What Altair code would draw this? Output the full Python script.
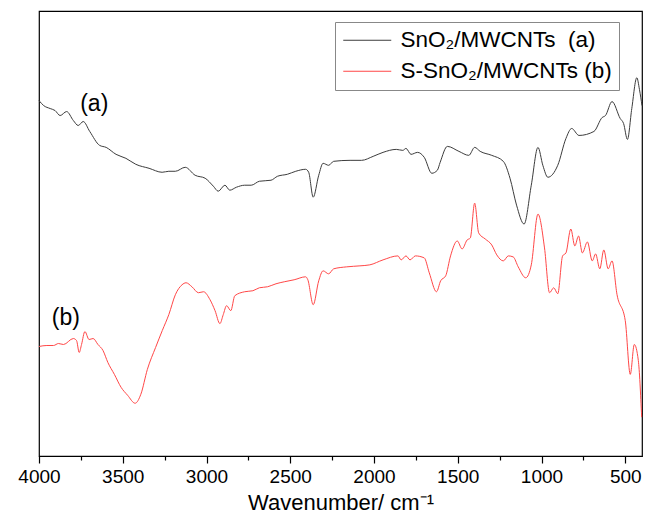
import altair as alt
import pandas as pd

# ---- data ----
wn_a = [4000, 3972, 3933, 3904, 3874, 3835, 3795, 3766, 3736, 3697, 3638, 3599, 3540, 3481,
        3422, 3343, 3265, 3225, 3186, 3127, 3068, 3008, 2959, 2930, 2890, 2861, 2821, 2772,
        2733, 2684, 2615, 2576, 2517, 2467, 2408, 2390, 2363, 2330, 2304, 2271, 2241, 2143,
        2074, 2005, 1946, 1867, 1828, 1809, 1779, 1740, 1700, 1655, 1622, 1605, 1562, 1493,
        1434, 1399, 1366, 1297, 1228, 1188, 1149, 1104, 1061, 1021, 992, 962, 903, 854, 820,
        776, 687, 638, 618, 579, 530, 510, 487, 461, 431, 415, 400]
abs_a = [3.57, 3.52, 3.49, 3.47, 3.42, 3.46, 3.37, 3.32, 3.36, 3.26, 3.12, 3.10, 3.03, 2.99,
         2.93, 2.89, 2.85, 2.86, 2.86, 2.90, 2.82, 2.79, 2.71, 2.66, 2.72, 2.67, 2.70, 2.72,
         2.72, 2.76, 2.77, 2.81, 2.83, 2.86, 2.88, 2.85, 2.60, 2.82, 2.94, 2.92, 2.96, 2.97,
         2.97, 3.01, 3.05, 3.08, 3.07, 3.09, 3.03, 3.05, 3.00, 2.84, 2.87, 2.95, 3.11, 3.06,
         3.02, 3.10, 3.06, 3.02, 2.96, 2.79, 2.52, 2.33, 2.72, 3.10, 2.92, 2.80, 2.92, 3.19, 3.29,
         3.22, 3.26, 3.40, 3.42, 3.56, 3.39, 3.34, 3.18, 3.49, 3.80, 3.68, 3.52]

wn_b = [4000, 3953, 3913, 3884, 3854, 3795, 3776, 3760, 3746, 3726, 3701, 3677, 3648, 3618,
        3589, 3550, 3510, 3471, 3426, 3392, 3353, 3304, 3264, 3225, 3186, 3146, 3122, 3087,
        3048, 3018, 2979, 2949, 2920, 2900, 2880, 2855, 2831, 2772, 2723, 2684, 2635, 2585,
        2536, 2477, 2408, 2395, 2363, 2330, 2304, 2271, 2241, 2163, 2084, 2025, 1946, 1857,
        1838, 1809, 1785, 1753, 1700, 1670, 1627, 1602, 1572, 1543, 1503, 1474, 1444, 1425,
        1399, 1375, 1336, 1297, 1267, 1228, 1198, 1169, 1139, 1094, 1061, 1021, 982, 952, 927,
        903, 874, 854, 825, 801, 779, 756, 726, 697, 677, 652, 628, 602, 579, 549, 500, 470,
        446, 422, 402]
abs_b = [1.10, 1.11, 1.11, 1.13, 1.12, 1.18, 1.16, 1.04, 1.12, 1.25, 1.17, 1.18, 1.12, 1.06,
         0.94, 0.82, 0.69, 0.61, 0.53, 0.62, 0.87, 1.09, 1.26, 1.42, 1.62, 1.72, 1.74, 1.70,
         1.64, 1.65, 1.57, 1.46, 1.33, 1.42, 1.51, 1.46, 1.61, 1.65, 1.66, 1.69, 1.70, 1.73,
         1.75, 1.77, 1.80, 1.77, 1.52, 1.76, 1.86, 1.83, 1.88, 1.90, 1.91, 1.92, 1.97, 2.01,
         1.97, 2.01, 1.97, 2.01, 1.99, 1.84, 1.65, 1.76, 1.81, 2.01, 2.16, 2.08, 2.17, 2.19,
         2.54, 2.24, 2.18, 2.12, 2.02, 1.96, 2.01, 2.00, 1.90, 1.79, 1.92, 2.43, 2.09, 1.64, 1.69,
         1.63, 2.01, 2.04, 2.28, 2.11, 2.21, 2.04, 2.15, 1.96, 2.03, 1.88, 2.07, 1.88, 1.96,
         1.62, 1.36, 0.82, 1.12, 0.96, 0.39]

series_names = ["SnO\u2082/MWCNTs\u00a0 (a)", "S-SnO\u2082/MWCNTs (b)"]
series_colors = ["#3c3c3c", "#ff4747"]

major_ticks = [4000, 3500, 3000, 2500, 2000, 1500, 1000, 500]
minor_ticks = [3750, 3250, 2750, 2250, 1750, 1250, 750]
x_domain = [4000, 400]
y_domain = [0, 4.47]

annot_labels = ["(a)", "(b)"]
annot_wn = [3670, 3840]
annot_abs = [3.54, 1.39]

# ---- tables ----
rows = []
for i, (w, a) in enumerate(zip(wn_a, abs_a)):
    rows.append({"wn": w, "A": a, "series": series_names[0], "idx": i})
for i, (w, a) in enumerate(zip(wn_b, abs_b)):
    rows.append({"wn": w, "A": a, "series": series_names[1], "idx": i})
df = pd.DataFrame(rows)
df_minor = pd.DataFrame({"wn": minor_ticks})
df_annot = pd.DataFrame({"wn": annot_wn, "A": annot_abs, "label": annot_labels})

FONT = "Liberation Sans"
x_scale = alt.Scale(domain=x_domain, nice=False, zero=False)
y_scale = alt.Scale(domain=y_domain, nice=False, zero=False)

lines = alt.Chart(df).mark_line(strokeWidth=1, interpolate="monotone").encode(
    x=alt.X("wn:Q", scale=x_scale,
            axis=alt.Axis(values=major_ticks, title="Wavenumber/ cm\u207b\u00b9", format="d",
                          tickSize=7, tickWidth=1.2, tickColor="black",
                          domainColor="black", domainWidth=1.2,
                          labelFlush=False, labelOverlap=False, grid=False, orient="bottom",
                          labelFontSize=19, labelFont=FONT, labelColor="black", labelPadding=4,
                          titleFontSize=22, titleFont=FONT, titleColor="black",
                          titleFontWeight="normal", titlePadding=6)),
    y=alt.Y("A:Q", scale=y_scale,
            axis=alt.Axis(labels=False, ticks=False, grid=False, title="Absorbance/a.u.",
                          titleFontSize=22, titleFont=FONT, titleColor="black",
                          titleFontWeight="normal", titlePadding=7,
                          domainColor="black", domainWidth=1.2)),
    color=alt.Color("series:N", scale=alt.Scale(domain=series_names, range=series_colors),
                    legend=alt.Legend(title=None, orient="none", legendX=296, legendY=11,
                                      symbolType="M-1,0H3.8", symbolSize=400,
                                      symbolStrokeWidth=1,
                                      labelFontSize=22.5, labelFont=FONT, labelColor="black",
                                      labelLimit=400, labelOffset=36, padding=7, rowPadding=8,
                                      strokeColor="#888888", fillColor="white")),
    order="idx:Q",
)

minor = alt.Chart(df_minor).mark_tick(opacity=0).encode(
    x=alt.X("wn:Q", scale=x_scale,
            axis=alt.Axis(values=minor_ticks, labels=False, tickSize=4, tickWidth=1.2,
                          tickColor="black", domain=False, grid=False, title=None,
                          orient="bottom")),
)

annot = alt.Chart(df_annot).mark_text(fontSize=23, font=FONT, color="black").encode(
    x=alt.X("wn:Q", scale=x_scale, axis=None),
    y=alt.Y("A:Q", scale=y_scale, axis=None),
    text="label:N",
)

chart = alt.layer(lines, minor, annot).resolve_axis(x="independent").properties(
    width=603, height=445,
    padding={"left": 9, "top": 3, "right": 0, "bottom": 0},
).configure_view(stroke="black", strokeWidth=1.2)

chart.save("out.html", embed_options={"renderer": "svg", "actions": False})
